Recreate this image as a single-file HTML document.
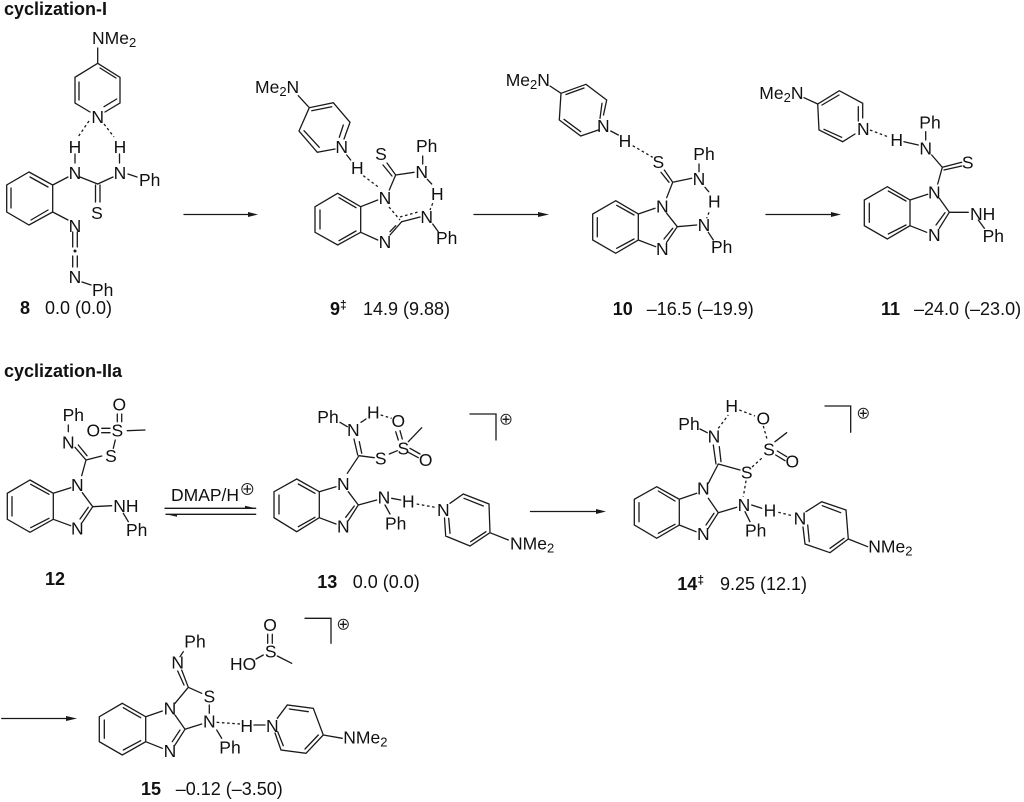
<!DOCTYPE html>
<html><head><meta charset="utf-8">
<style>
html,body{margin:0;padding:0;background:#fff}
svg{display:block}
text{font-family:"Liberation Sans",sans-serif;fill:#111;font-size:17.5px}
.m{text-anchor:middle}
.t{font-size:18px;font-weight:bold}
.c{font-size:18px}
.b{font-size:18px;font-weight:bold}
.s{font-size:13px}
.l{fill:none;stroke:#1a1a1a;stroke-width:1.3;stroke-linecap:round}
.d{fill:none;stroke:#1a1a1a;stroke-width:1.3;stroke-dasharray:2.6 2.6}
.h{fill:#1a1a1a;stroke:none}
</style></head><body>
<svg width="1024" height="802" viewBox="0 0 1024 802" xmlns="http://www.w3.org/2000/svg">
<text class="t" x="4" y="15">cyclization-I</text>
<text class="t" x="4" y="377">cyclization-IIa</text>

<!-- 8 -->
<path class="l" d="M97.7 63.3L120 77.3L120 103L105 112M90 112L75 103L75 77.3L97.7 63.3M97.7 63.3V48M100 68L116 78M79 82V100M104 106.7L116.7 99M75 154V163M119.5 154V163M128 174L137 177M80 177L97.7 184L113 177M95.5 185V202M100 185V202M29 172L52.7 185V212L29 225L6.7 212V185Z M30 177L48 187M11 188V208M31 220L48 210M52.7 185L68 177M52.7 212L68 220M72.7 232V247M77.3 232V247M72.7 256V267M77.3 256V267M82 282L91 285"/>
<path class="d" d="M89 121L78 137M104 124L114 137"/>
<circle class="h" cx="75" cy="251" r="1.5"/>
<text x="92" y="44">NMe<tspan class="s" dy="3">2</tspan></text>
<text class="m" x="97.7" y="123">N</text>
<text class="m" x="75" y="153">H</text><text class="m" x="120" y="153">H</text>
<text class="m" x="75" y="179">N</text><text class="m" x="120" y="179">N</text>
<text x="139" y="186">Ph</text>
<text class="m" x="97" y="219">S</text>
<text class="m" x="75" y="232">N</text><text class="m" x="75" y="283">N</text>
<text x="92" y="296">Ph</text>
<text class="b" x="20" y="314">8</text><text class="c" x="45" y="314">0.0 (0.0)</text>

<path class="l" d="M184 214.5H250"/><path class="h" d="M248 212L258 214.5L248 217Z"/>

<!-- 9 -->
<path class="l" d="M298.3 95.7L309.3 107.7L333.3 102.7L350 122.3L344 139M335 149L317.3 152.3L299 131L309.3 107.7M311.7 110.7L331.7 106.7M343.3 125L339.3 137.3M304 130.7L319.3 147.3M346.7 155L350.7 160M395.7 175L389.3 190M395.7 175L387 163M392 176L383 165M395.7 175L414 172.3M422.7 156V164M427.3 179.3L431.7 184M432.7 224L438.3 231.7M337.7 193.3L360.7 206.7V232.3L337.7 245L315 232.3V206.7ZM339 197.7L356 207.7M320 210V229M339 240.7L356 231M360.7 206.7L377.7 200M360.7 232.3L377.7 240M390 235L401.7 221.7M390 231.7L395.7 225.7M401.7 221.7L420 217"/>
<path class="d" d="M363.3 175.7L380 188.3M432.7 203.3L430 210M389 207L400 220M400 217L418 212"/>
<text x="255" y="93">Me<tspan class="s" dy="3">2</tspan><tspan dy="-3">N</tspan></text>
<text class="m" x="341.7" y="153">N</text><text class="m" x="357.3" y="174">H</text>
<text class="m" x="381" y="160">S</text><text class="m" x="385" y="204">N</text>
<text class="m" x="421.7" y="178">N</text><text class="m" x="426.7" y="152">Ph</text>
<text class="m" x="437.3" y="200">H</text><text class="m" x="426.7" y="223">N</text>
<text class="m" x="446.7" y="244">Ph</text><text class="m" x="385" y="248">N</text>
<text class="b" x="330" y="315">9<tspan class="s" dy="-6" style="font-size:12px">‡</tspan></text><text class="c" x="363" y="315">14.9 (9.88)</text>

<path class="l" d="M474 214.5H540"/><path class="h" d="M538 212L549 214.5L538 217Z"/>

<!-- 10 -->
<path class="l" d="M550 86L561 93.3L586 84.3L606.7 100L603.5 115M598.3 130L580.7 136L559.3 120L561 93.3M566 94.5L584 88M602 103.3L600 118.3M564 119.3L580.7 131.7M610.7 131L618.3 135M672.7 182.3L664.3 170M669 182.3L661 172.3M672.7 182.3L691.7 178.3M699 164V171.7M705 187.3L708.7 191.7M677.3 226.7L696.7 225M708.3 232.3L713.3 240M672.7 182.3L666.7 197.7M615.7 200.7L638.3 214V240L615.7 253.3L592.7 240V214ZM616.7 205.3L634 215M597.3 217.7V236.7M616.7 248.3L634 239M638.3 214L655 208.3M638.3 240L655.7 246.7M666.7 213.3L677.3 226.7L666.7 242.3M672.7 228.3L664 239"/>
<path class="d" d="M632.7 145.7L652.7 157.3M709 212.3L706.7 218.3"/>
<text x="505.7" y="86">Me<tspan class="s" dy="3">2</tspan><tspan dy="-3">N</tspan></text>
<text class="m" x="603.3" y="132">N</text><text class="m" x="625" y="147">H</text>
<text class="m" x="658.3" y="168">S</text><text class="m" x="699" y="185">N</text>
<text class="m" x="704" y="160">Ph</text><text class="m" x="714.3" y="207.7">H</text>
<text class="m" x="704" y="231">N</text><text class="m" x="721.7" y="253">Ph</text>
<text class="m" x="662.3" y="212.7">N</text><text class="m" x="662.3" y="255">N</text>
<text class="b" x="612.7" y="315">10</text><text class="c" x="646.7" y="315">–16.5 (–19.9)</text>

<path class="l" d="M766 214.5H833"/><path class="h" d="M831 212L841 214.5L831 217Z"/>

<!-- 11 -->
<path class="l" d="M804 97.7L817.7 104L839.3 90.7L862.7 103.3V118M855 134L842.7 141.7L819 130L817.7 104M822 105L839 95M858.3 106.7V121M824 129.3L841.7 137.3M904 141.7L918.3 145M925.7 131.7V140M931.7 155L942.3 167.3L961.7 162.3M944 170L961.7 166M942.3 167.3L937.7 184M887.3 186.7L910 200V225.7L887.3 239L864.3 225.7V200ZM888.3 191L906 201M869.3 203.3V222.3M888.3 234L906 225M910 200L927.7 194.3M910 225.7L926.7 232.3M939.3 198.3L949.3 212.3L939.3 228.3M945 212.7L936 225M949.3 212.3H968.3M978.3 220L984.3 228.3"/>
<path class="d" d="M870 130L887.7 136.7"/>
<text x="759.3" y="99">Me<tspan class="s" dy="3">2</tspan><tspan dy="-3">N</tspan></text>
<text class="m" x="863.3" y="135">N</text><text class="m" x="896.7" y="146">H</text>
<text class="m" x="925.7" y="154.3">N</text><text class="m" x="930" y="128.3">Ph</text>
<text class="m" x="967.7" y="168.3">S</text><text class="m" x="934.3" y="198.3">N</text>
<text class="m" x="934.3" y="241">N</text><text x="970" y="220">NH</text>
<text class="m" x="993.3" y="242">Ph</text>
<text class="b" x="881" y="315">11</text><text class="c" x="914" y="315">–24.0 (–23.0)</text>

<!-- 12 -->
<path class="l" d="M68.3 425V431.7M75 447.3L86 460M78.3 445L87 455.7M86 460L101.7 456M113.3 448.3L115.3 440M127.3 430.7L145 430M101.7 428.3H110M101.7 432.7H110M117.3 414V421.7M121.7 414V421.7M86 460L81.7 475.7M30 480L53.3 493.3V519.3L30 532.3L7.3 519.3V493.3ZM30.7 484.3L49 494.3M12 496.7V516M30.7 527.7L49 518.3M53.3 493.3L70.7 487.7M53.3 519.3L70.7 525.7M82.3 492.7L92.7 506.7L82.3 522.3M88.3 507.3L80 519M92.7 506.7L111.7 505.7M123.3 513.3L128.3 521.7"/>
<text class="m" x="73.3" y="421">Ph</text><text class="m" x="68.3" y="448.3">N</text>
<text class="m" x="111" y="462">S</text><text class="m" x="117.3" y="436.7">S</text>
<text class="m" x="93.3" y="436.7">O</text><text class="m" x="119.3" y="410.3">O</text>
<text class="m" x="77.3" y="491">N</text><text class="m" x="77.3" y="534.3">N</text>
<text x="113.3" y="512">NH</text><text class="m" x="136.7" y="536">Ph</text>
<text x="171" y="501">DMAP/H</text>
<circle cx="247.3" cy="489" r="5.5" fill="none" stroke="#222" stroke-width="1"/>
<path class="l" d="M244 489H250.6M247.3 485.7V492.3"/>
<path class="l" d="M165 508.3H255.7"/><path class="h" d="M245 505.8L255.7 508.3H245Z"/>
<path class="l" d="M166 514.3H255.7"/><path class="h" d="M166 514.3H177V516.8Z"/>
<text class="b" x="45" y="585">12</text>

<!-- 13 -->
<path class="l" d="M340 422.3L347.3 426.7M361 422.3L366 419M395.7 431.7L398.3 440M400 430.7L402.3 439M408.3 441.7L421.7 427.7M410 448.3L420 454M408.3 452.3L418.3 457.7M389.3 454L397.3 450.7M359 455.7L374.3 457.7M357.7 455L354 439M361.7 453.3L359.3 441.7M359 455.7L347.3 473.3M296.7 479L319.3 491.7V517.7L296.7 531.7L274 517.7V491.7ZM298.3 484L315 493.3M279 495V514M298.3 526.7L315 517.3M319.3 491.7L336 486.7M319.3 517.7L336 524M348.3 491.7L358.3 505L348.3 520.7M354.3 506L345.7 517.3M358.3 505L376.7 500M391.7 498.3L400.7 500M385 505L390 514M450 503.3L463.3 494L489 504L490 532.7L470 546L445.7 536L444.5 518M464 498.3L483.3 506M486 531.7L470.7 541.7M450 533.3L448.7 518.3M490 532.7L508.3 540M470 414H496V440"/>
<path class="d" d="M380.7 415L391.7 418.3M416.7 504L435 507.3"/>
<text x="317.3" y="423">Ph</text><text class="m" x="353.3" y="436">N</text>
<text class="m" x="373.3" y="418.7">H</text><text class="m" x="398.3" y="427">O</text>
<text class="m" x="403.3" y="454.3">S</text><text class="m" x="425.7" y="466">O</text>
<text class="m" x="380.7" y="464.3">S</text><text class="m" x="343.3" y="490">N</text>
<text class="m" x="343.3" y="532.7">N</text><text class="m" x="384" y="503.3">N</text>
<text class="m" x="408.3" y="507.7">H</text><text class="m" x="443.3" y="516">N</text>
<text class="m" x="395.7" y="529.3">Ph</text>
<text x="510" y="549.3">NMe<tspan class="s" dy="3">2</tspan></text>
<circle cx="506" cy="419.3" r="5" fill="none" stroke="#222" stroke-width="1"/>
<path class="l" d="M503 419.3H509M506 416.3V422.3"/>
<text class="b" x="317.3" y="588">13</text><text class="c" x="352.7" y="588">0.0 (0.0)</text>

<path class="l" d="M530.5 511.5H598"/><path class="h" d="M596 509L606 511.5L596 514Z"/>

<!-- 14 -->
<path class="l" d="M700 429L707.3 432.7M775 441.7L786.7 432.7M777.3 451L786.7 456.7M775.7 455L785 460.7M718.3 464L740 470M716 464L713.3 445M721 461.7L719.3 446.7M718.3 464L708.3 483.3M751.7 505L761.7 508.3M745 511.7L750 521.7M656.7 486.7L679.3 499.3V525L656.7 538.3L634.3 525V499.3ZM658.3 491L675 501M639 502.7V521.7M658.3 533.3L675 524.3M679.3 499.3L696.7 493.3M679.3 525L696 531.7M708.3 498.3L718.3 512.7L708.3 528.3M714 513.3L706 525M718.3 512.7L736.7 507.3M806 511.7L821.7 501.7L846 510L848.3 539L830 552.7L805 544L803 527M822.3 505.7L840.7 512.7M844 538.3L830 548.3M809.3 541.7L807.7 525M848.3 539L867.7 546.7M825 406H850.7V432.3"/>
<path class="d" d="M718.3 428.3L728.3 415M739.3 410L755 416M763.3 426L767.3 440M761.7 458.3L751.7 467.3M746 480.7L743.3 496.7M778.3 512.3L793.3 516"/>
<text x="678.3" y="430">Ph</text><text class="m" x="714" y="442.7">N</text>
<text class="m" x="731.7" y="412">H</text><text class="m" x="763.3" y="424.3">O</text>
<text class="m" x="769" y="455.3">S</text><text class="m" x="792.3" y="467.7">O</text>
<text class="m" x="746.7" y="478.7">S</text><text class="m" x="703.3" y="494.3">N</text>
<text class="m" x="703.3" y="540">N</text><text class="m" x="744" y="511">N</text>
<text class="m" x="770" y="516.7">H</text><text class="m" x="800" y="524.3">N</text>
<text class="m" x="755.7" y="536.7">Ph</text>
<text x="868.3" y="552.7">NMe<tspan class="s" dy="3">2</tspan></text>
<circle cx="863.3" cy="413.3" r="5" fill="none" stroke="#222" stroke-width="1"/>
<path class="l" d="M860.3 413.3H866.3M863.3 410.3V416.3"/>
<text class="b" x="677.3" y="590">14<tspan class="s" dy="-6" style="font-size:12px">‡</tspan></text><text class="c" x="720" y="590">9.25 (12.1)</text>

<!-- 15 -->
<path class="l" d="M1.7 718.5H68"/><path class="h" d="M66 716L77 718.5L66 721Z"/>
<path class="l" d="M183.3 651.7L180 656.7M188.3 687.3L181.7 670M184 685L177.7 671M188.3 687.3L201.7 693.3M209.3 705V713.3M188.3 687.3L175 703.3M254 725H265M216.7 730L221.7 738.3M122.3 703.3L145.7 716.7V741.7L122.3 755L99.3 741.7V716.7ZM123.3 707.7L140.7 717.7M104.3 720V738.3M123.3 750L140.7 740.7M145.7 716.7L162.3 711M145.7 741.7L162.3 748.3M175 715L185 729.3L175 745M180 730L172.3 741.7M185 729.3L201.7 724M277.3 718.3L287.3 705L313.3 708.3L323.3 735L306 753.3L281 750L275 733M289.3 709L308.3 711.7M318.3 735L305 749M283.3 745.7L277.7 731.7M323.3 735L342.3 738.3M267.7 634.3V643.3M272.3 634.3V643.3M277.3 656L291.7 663.3M263.3 655L256 659M305 618.3H331V643.3"/>
<path class="d" d="M216.7 722.3L240 724"/>
<text class="m" x="195" y="647.7">Ph</text><text class="m" x="177.7" y="668.7">N</text>
<text class="m" x="209.3" y="702.7">S</text><text class="m" x="209.3" y="727.7">N</text>
<text class="m" x="170" y="714.3">N</text><text class="m" x="170" y="757">N</text>
<text class="m" x="246.7" y="732">H</text><text class="m" x="272.3" y="732">N</text>
<text class="m" x="230" y="753.7">Ph</text>
<text x="343.3" y="743.3">NMe<tspan class="s" dy="3">2</tspan></text>
<text class="m" x="270" y="631">O</text><text class="m" x="270.7" y="657.7">S</text>
<text x="230" y="670">HO</text>
<circle cx="343.3" cy="624.3" r="5" fill="none" stroke="#222" stroke-width="1"/>
<path class="l" d="M340.3 624.3H346.3M343.3 621.3V627.3"/>
<text class="b" x="141" y="795">15</text><text class="c" x="175.7" y="795">–0.12 (–3.50)</text>
</svg>
</body></html>
